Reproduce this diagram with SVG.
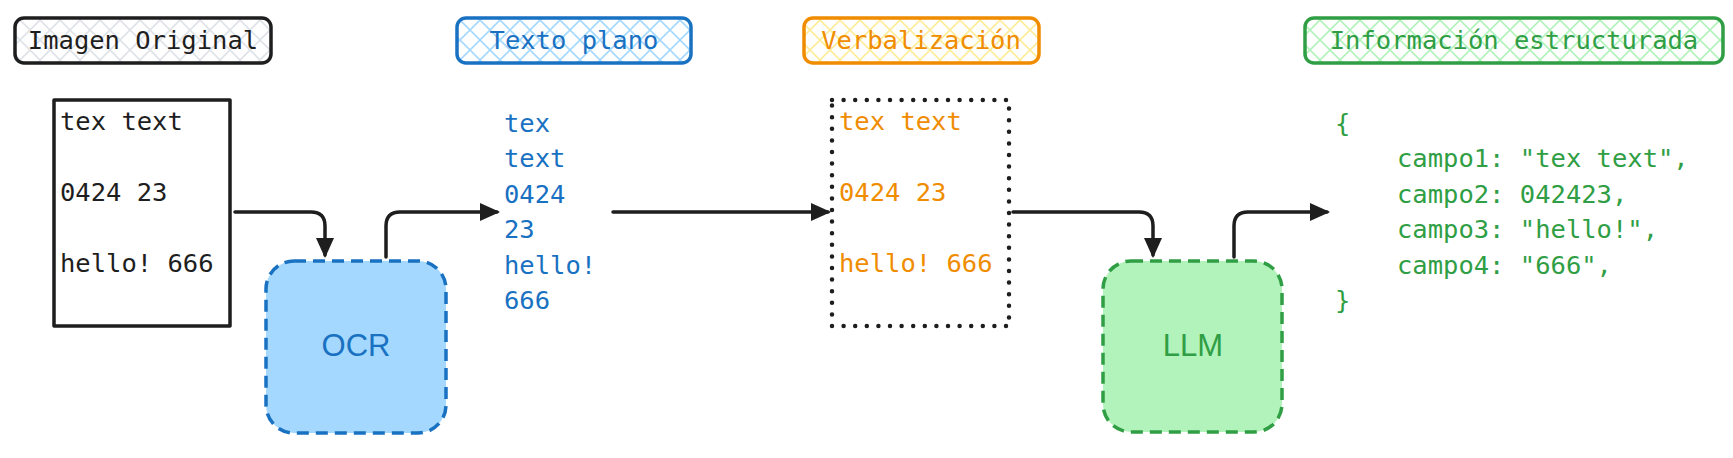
<svg xmlns="http://www.w3.org/2000/svg" width="1733" height="458" viewBox="0 0 1733 458">
<defs>
  <pattern id="hGray" patternUnits="userSpaceOnUse" width="20" height="20">
    <path d="M0,0 L20,20 M20,0 L0,20" stroke="#dfe3e8" stroke-width="1.6"/>
  </pattern>
  <pattern id="hBlue" patternUnits="userSpaceOnUse" width="20" height="20">
    <path d="M0,0 L20,20 M20,0 L0,20" stroke="#a5d8ff" stroke-width="1.6"/>
  </pattern>
  <pattern id="hYellow" patternUnits="userSpaceOnUse" width="20" height="20">
    <path d="M0,0 L20,20 M20,0 L0,20" stroke="#ffec99" stroke-width="1.6"/>
  </pattern>
  <pattern id="hGreen" patternUnits="userSpaceOnUse" width="20" height="20">
    <path d="M0,0 L20,20 M20,0 L0,20" stroke="#b2f2bb" stroke-width="1.6"/>
  </pattern>
  <marker id="ah" markerUnits="userSpaceOnUse" viewBox="0 0 20 18" markerWidth="20" markerHeight="18" refX="17" refY="9" orient="auto">
    <path d="M0,0 L20,9 L0,18 Z" fill="#1e1e1e"/>
  </marker>
</defs>
<style>
  .mono { font-family: "DejaVu Sans Mono", "Liberation Mono", monospace; font-size: 25.5px; }
  .title { text-anchor: middle; }
  .hand { font-family: "Liberation Sans", "DejaVu Sans", sans-serif; font-size: 31px; text-anchor: middle; }
  .tbox { stroke-width: 3.5; }
  .conn { fill: none; stroke: #1e1e1e; stroke-width: 3.5; stroke-linecap: round; stroke-linejoin: round; }
  .k { fill: #1e1e1e; }
  .b { fill: #1971c2; }
  .o { fill: #f08c00; }
  .g { fill: #2f9e44; }
</style>

<g id="title-imagen">
  <rect class="tbox" x="15" y="18" width="256" height="45" rx="9" fill="url(#hGray)" stroke="#1e1e1e"/>
  <text class="mono title k" x="143" y="49">Imagen Original</text>
</g>
<g id="title-texto">
  <rect class="tbox" x="457" y="18" width="234" height="45" rx="9" fill="url(#hBlue)" stroke="#1971c2"/>
  <text class="mono title b" x="574" y="49">Texto plano</text>
</g>
<g id="title-verbalizacion">
  <rect class="tbox" x="804" y="18" width="235" height="45" rx="9" fill="url(#hYellow)" stroke="#f08c00"/>
  <text class="mono title o" x="921" y="49">Verbalización</text>
</g>
<g id="title-informacion">
  <rect class="tbox" x="1305" y="18" width="418" height="45" rx="9" fill="url(#hGreen)" stroke="#2f9e44"/>
  <text class="mono title g" x="1514" y="49">Información estructurada</text>
</g>

<g id="imagen">
  <rect x="54" y="100" width="176" height="226" fill="none" stroke="#1e1e1e" stroke-width="3.5" stroke-linejoin="round"/>
  <text class="mono k" x="60" y="130">tex text</text>
  <text class="mono k" x="60" y="201">0424 23</text>
  <text class="mono k" x="60" y="272">hello! 666</text>
</g>

<g id="ocr">
  <rect x="266" y="261" width="180" height="172" rx="28" fill="#a5d8ff" stroke="#1971c2" stroke-width="3.5" stroke-dasharray="12 7"/>
  <text class="hand b" x="356" y="356">OCR</text>
</g>

<g id="texto-plano">
  <text class="mono b" x="504" y="132">tex</text>
  <text class="mono b" x="504" y="167">text</text>
  <text class="mono b" x="504" y="203">0424</text>
  <text class="mono b" x="504" y="238">23</text>
  <text class="mono b" x="504" y="274">hello!</text>
  <text class="mono b" x="504" y="309">666</text>
</g>

<g id="verbalizacion">
  <rect x="832" y="100" width="177" height="226" fill="none" stroke="#1e1e1e" stroke-width="4.5" stroke-linecap="round" stroke-dasharray="0 11.6"/>
  <text class="mono o" x="839" y="130">tex text</text>
  <text class="mono o" x="839" y="201">0424 23</text>
  <text class="mono o" x="839" y="272">hello! 666</text>
</g>

<g id="llm">
  <rect x="1103" y="261" width="179" height="171" rx="28" fill="#b2f2bb" stroke="#2f9e44" stroke-width="3.5" stroke-dasharray="12 7"/>
  <text class="hand g" x="1193" y="356">LLM</text>
</g>

<g id="informacion">
  <text class="mono g" x="1335" y="132">{</text>
  <text class="mono g" x="1397" y="167">campo1: "tex text",</text>
  <text class="mono g" x="1397" y="203">campo2: 042423,</text>
  <text class="mono g" x="1397" y="238">campo3: "hello!",</text>
  <text class="mono g" x="1397" y="274">campo4: "666",</text>
  <text class="mono g" x="1335" y="309">}</text>
</g>

<g id="connectors">
  <path class="conn" d="M235 212 H311 Q325 212 325 226 V255" marker-end="url(#ah)"/>
  <path class="conn" d="M386 257 V226 Q386 212 400 212 H497" marker-end="url(#ah)"/>
  <path class="conn" d="M613 212 H828" marker-end="url(#ah)"/>
  <path class="conn" d="M1013 212 H1139 Q1153 212 1153 226 V255" marker-end="url(#ah)"/>
  <path class="conn" d="M1234 257 V226 Q1234 212 1248 212 H1327" marker-end="url(#ah)"/>
</g>
</svg>
